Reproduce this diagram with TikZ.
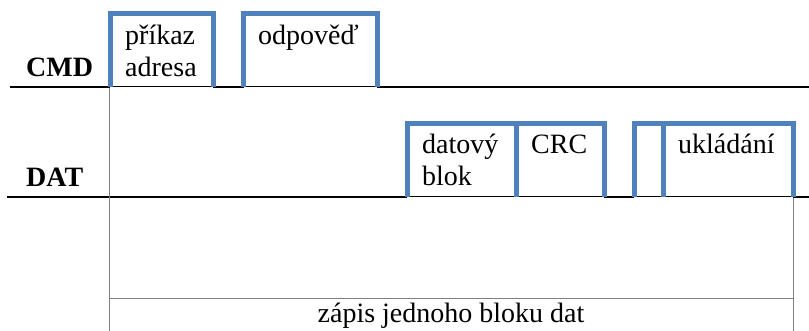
\documentclass[tikz,border=0pt]{standalone}
\usepackage{fontspec}
\newfontfamily\tnr{LiberationSerif}[Extension=.ttf,UprightFont=*-Regular,BoldFont=*-Bold]
\definecolor{boxblue}{HTML}{4F81BD}
\definecolor{guide}{HTML}{808080}
\begin{document}
\begin{tikzpicture}[x=1pt,y=-1pt,
  bluebox/.style={draw=boxblue,line width=5pt,line join=miter},
  busthick/.style={draw=black,line width=2pt},
  busthin/.style={draw=black,line width=1pt},
  guideline/.style={draw=guide,line width=1pt},
  lbl/.style={anchor=base west,inner sep=0pt,font=\tnr\fontsize{28}{32}\selectfont},
  sig/.style={lbl,font=\tnr\fontsize{28}{32}\selectfont\bfseries}]
\useasboundingbox (0,0) rectangle (809,331);
% bus lines
\draw[busthin] (10,87) -- (809,87);
\draw[busthick] (10,87) -- (110,87) (213,87) -- (243.5,87) (377,87) -- (809,87);
\draw[busthin] (7,197) -- (809,197);
\draw[busthick] (7,197) -- (407,197) (604,197) -- (634,197) (793,197) -- (809,197);
% guide lines
\coordinate (gl1) at (109,88);
\coordinate (gl2) at (109,331);
\coordinate (gr1) at (793,198);
\coordinate (gr2) at (793,331);
\coordinate (gh1) at (109,299);
\coordinate (gh2) at (793,299);
\draw[guideline] (gl1) -- (gl2);
\draw[guideline] (gr1) -- (gr2);
\draw[guideline] (gh1) -- (gh2);
% CMD boxes
\draw[bluebox] (110,87) -- (110,14) -- (213,14) -- (213,87);
\draw[bluebox] (243.5,87) -- (243.5,14) -- (377,14) -- (377,87);
% DAT boxes
\draw[bluebox] (407,197) -- (407,124) -- (604,124) -- (604,197);
\draw[bluebox] (516,124) -- (516,197);
\draw[bluebox] (634,197) -- (634,124) -- (793,124) -- (793,197);
\draw[bluebox] (663,124) -- (663,197);
% labels
\node[sig] (cmd) at (26,77) {CMD};
\node[sig] (dat) at (26,187) {DAT};
\node[lbl] (prikaz) at (125,45) {příkaz};
\node[lbl] (adresa) at (125,77) {adresa};
\node[lbl] (odpoved) at (258,45) {odpověď};
\node[lbl] (datovy) at (422,154) {datový};
\node[lbl] (blok) at (422,186) {blok};
\node[lbl] (crc) at (531,154) {CRC};
\node[lbl] (ukladani) at (678,154) {ukládání};
\node[anchor=base,inner sep=0pt,font=\tnr\fontsize{28}{32}\selectfont] (zapis) at (451,323) {zápis jednoho bloku dat};
\end{tikzpicture}
\end{document}
